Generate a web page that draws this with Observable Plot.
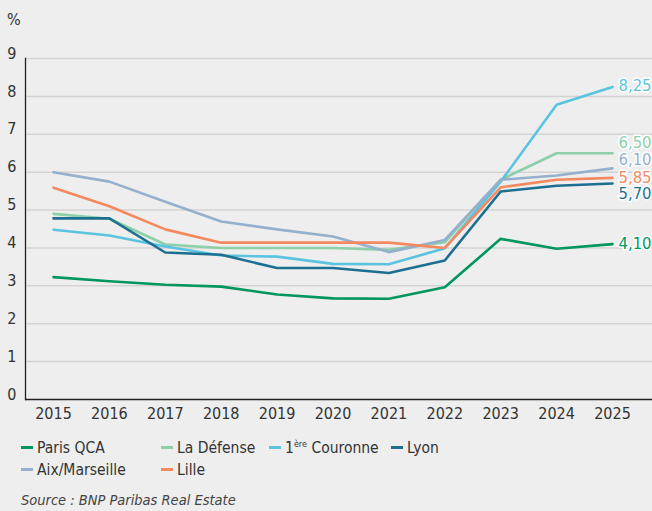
<!DOCTYPE html>
<html>
<head>
<meta charset="utf-8">
<script src="https://cdn.jsdelivr.net/npm/d3@7"></script>
<script src="https://cdn.jsdelivr.net/npm/@observablehq/plot@0.6"></script>
<style>
  html, body { margin: 0; padding: 0; background: #eeeeee; }
  body { width: 652px; height: 511px; overflow: hidden; position: relative;
         font-family: "DejaVu Sans Condensed", "DejaVu Sans", sans-serif; font-stretch: condensed; color: #333; }
  #unit { position: absolute; left: 7px; top: 10px; font-size: 16px; color: #333; }
  #chart { position: absolute; left: 0; top: 0; }
  #legend { position: absolute; left: 21px; top: 437px; display: grid;
            grid-template-columns: 140px 108px 122px auto; row-gap: 1px; font-size: 15.5px; color: #333; }
  .item { display: flex; align-items: center; height: 21px; white-space: nowrap; }
  .sw { width: 12px; height: 3px; margin-right: 4px; }
  .item sup { font-size: 9px; vertical-align: 6px; line-height: 0; }
  #source { position: absolute; left: 21px; top: 492px; font-size: 14.5px; font-style: italic; color: #444; }
</style>
</head>
<body>
<div id="chart"></div>
<div id="unit">%</div>
<div id="legend"></div>
<div id="source">Source : BNP Paribas Real Estate</div>
<script>
const years = [2015, 2016, 2017, 2018, 2019, 2020, 2021, 2022, 2023, 2024, 2025];
const seriesNames = ["Paris QCA", "La Défense", "1ère Couronne", "Lyon", "Aix/Marseille", "Lille"];
const parisQCA     = [3.23, 3.12, 3.03, 2.98, 2.77, 2.67, 2.66, 2.96, 4.24, 3.98, 4.10];
const laDefense    = [4.90, 4.77, 4.09, 4.00, 4.00, 4.00, 3.95, 4.15, 5.80, 6.50, 6.50];
const couronne     = [4.48, 4.33, 4.04, 3.80, 3.77, 3.58, 3.57, 3.99, 5.75, 7.78, 8.25];
const lyon         = [4.78, 4.78, 3.88, 3.82, 3.47, 3.47, 3.34, 3.67, 5.49, 5.64, 5.70];
const aixMarseille = [6.00, 5.75, 5.22, 4.70, 4.49, 4.30, 3.89, 4.21, 5.80, 5.91, 6.10];
const lille        = [5.59, 5.10, 4.49, 4.14, 4.14, 4.14, 4.14, 4.00, 5.60, 5.80, 5.85];
const endLabels    = ["4,10", "6,50", "8,25", "5,70", "6,10", "5,85"];
const yTicks = [0, 1, 2, 3, 4, 5, 6, 7, 8, 9];

const colors = ["#00965e", "#8dcfa8", "#5ac4e0", "#1d6f92", "#95b0cc", "#f4895f"];
const labelNudge = {"Paris QCA": 0, "La Défense": -11, "1ère Couronne": -1, "Lyon": 10, "Aix/Marseille": -9, "Lille": 0};

const valuesList = [parisQCA, laDefense, couronne, lyon, aixMarseille, lille];
const data = [];
seriesNames.forEach((s, i) => years.forEach((yr, j) => data.push({series: s, year: yr, value: valuesList[i][j]})));
const last = seriesNames.map((s, i) => ({series: s, year: years[years.length - 1], value: valuesList[i][years.length - 1], label: endLabels[i]}));

const font = '"DejaVu Sans Condensed", "DejaVu Sans", sans-serif';

const chart = Plot.plot({
  width: 652, height: 430,
  marginTop: 58, marginBottom: 31, marginLeft: 25, marginRight: 0,
  style: {background: "transparent", fontFamily: font, fontSize: "16px", color: "#333"},
  x: {type: "linear", domain: [2015, 2025], insetLeft: 28, insetRight: 40},
  y: {domain: [0, 9]},
  color: {domain: seriesNames, range: colors},
  marks: [
    Plot.ruleY(yTicks.filter(d => d > 0), {stroke: "#d3d3d3", strokeWidth: 1.5}),
    Plot.axisY({ticks: yTicks, tickSize: 0, tickPadding: 9, dy: -5, label: null, fontSize: 16, fill: "#333"}),
    Plot.axisX({ticks: years, tickFormat: "d", tickSize: 0, tickPadding: 8, label: null, fontSize: 16, fill: "#333"}),
    Plot.lineY(data, {x: "year", y: "value", z: "series", stroke: "series", strokeWidth: 2.6}),
    Plot.ruleY([0], {stroke: "#222", strokeWidth: 1.3}),
    Plot.frame({anchor: "left", stroke: "#222", strokeWidth: 1.3}),
    ...last.map(d => Plot.text([d], {x: "year", y: "value", text: "label", fill: "series", dx: 6,
      dy: labelNudge[d.series], textAnchor: "start", fontSize: 16.5, stroke: "white", strokeWidth: 3}))
  ]
});
document.getElementById("chart").appendChild(chart);

const legend = document.getElementById("legend");
seriesNames.forEach((s, i) => {
  const it = document.createElement("div");
  it.className = "item";
  const sw = document.createElement("span");
  sw.className = "sw"; sw.style.background = colors[i];
  const lab = document.createElement("span");
  lab.innerHTML = s.replace("1ère", "1<sup>ère</sup>");
  it.appendChild(sw); it.appendChild(lab);
  legend.appendChild(it);
});
</script>
</body>
</html>
